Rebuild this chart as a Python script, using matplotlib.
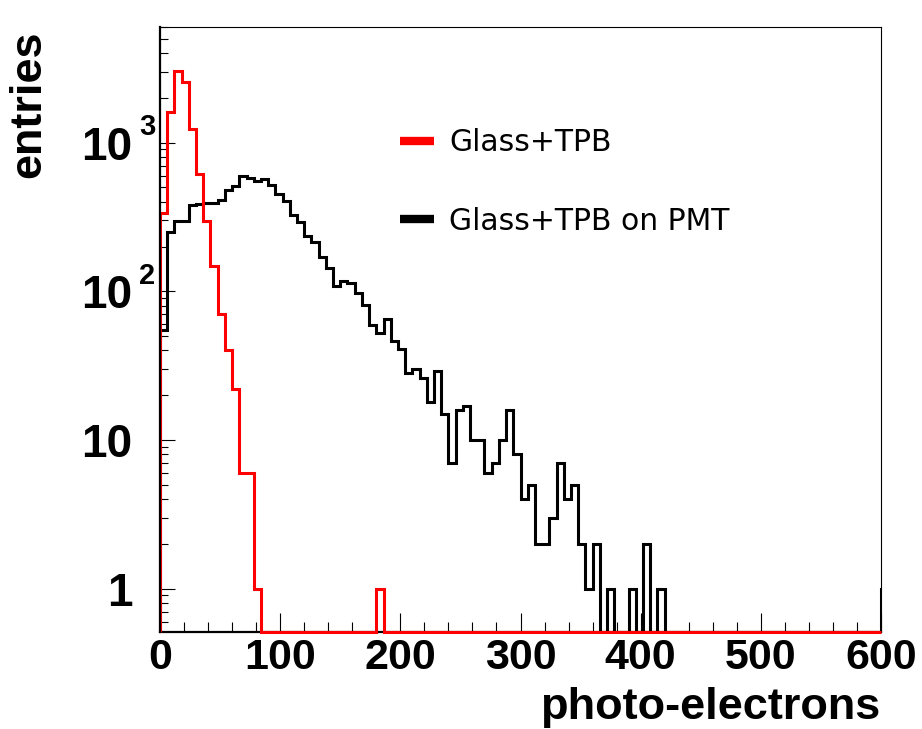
import numpy as np
import matplotlib
matplotlib.use("Agg")
import matplotlib.pyplot as plt
from matplotlib.lines import Line2D
from matplotlib.ticker import FixedLocator, LogLocator, NullFormatter, MultipleLocator

# ---- data (bin width 6 p.e., 0..600) ----
bin_edges = np.arange(0, 601, 6)

glass_tpb = [338, 1618, 3020, 2547, 1243, 615, 298, 148, 70, 40,
             22, 6, 6, 1, 0, 0, 0, 0, 0, 0,
             0, 0, 0, 0, 0, 0, 0, 0, 0, 0,
             1, 0, 0, 0, 0, 0, 0, 0, 0, 0] + [0] * 60

glass_tpb_pmt = [55, 249, 298, 298, 380, 385, 390, 390, 413, 483,
                 508, 593, 578, 552, 570, 521, 454, 403, 324, 291,
                 234, 216, 171, 143, 108, 118, 114, 98, 81, 59,
                 52, 65, 46, 41, 28, 30, 26, 18, 29, 15,
                 7, 16, 17, 10, 10, 6, 7, 10, 16, 8,
                 4, 5, 2, 2, 3, 7, 4, 5, 2, 1,
                 2, 0, 1, 0, 0, 1, 0, 2, 0, 1] + [0] * 30
pmt_overflow = 1

series_labels = ["Glass+TPB", "Glass+TPB on PMT"]
series_colors = ["#ff0000", "#000000"]

x_ticks = [0, 100, 200, 300, 400, 500, 600]
y_ticks = [1, 10, 100, 1000]
y_tick_labels = ["1", "10", "10", "10"]
y_tick_exponents = {100: "2", 1000: "3"}

ymin, ymax = 0.51, 6000

# ---- figure ----
W, H = 922, 729
fig = plt.figure(figsize=(W / 100, H / 100), dpi=100)
ax = fig.add_axes([160 / W, 1 - 632 / H, (881 - 160) / W, (632 - 27) / H])
ax.set_yscale("log")
ax.set_xlim(0, 600)
ax.set_ylim(ymin, ymax)

def floor(vals):
    v = np.asarray(vals, dtype=float)
    return np.where(v > 0, v, ymin)

# black first (red is drawn on top in the reference)
pmt_vals = np.append(glass_tpb_pmt, pmt_overflow)
pmt_edges = np.append(bin_edges, bin_edges[-1] + 6)
ax.stairs(floor(pmt_vals), pmt_edges, baseline=ymin, color=series_colors[1],
          lw=2.2, zorder=3)
ax.stairs(floor(glass_tpb), bin_edges, baseline=ymin, color=series_colors[0],
          lw=2.2, zorder=3.1, clip_on=False)

# ---- axes styling (ROOT-like) ----
font_b = "Liberation Sans"
for s in ["left", "bottom"]:
    ax.spines[s].set_linewidth(1.6)
ax.spines["left"].set_zorder(4)
for s in ["top", "right"]:
    ax.spines[s].set_linewidth(0.8)

ax.xaxis.set_major_locator(FixedLocator(x_ticks))
ax.xaxis.set_minor_locator(MultipleLocator(20))
ax.set_xticklabels([str(t) for t in x_ticks], fontfamily=font_b,
                   fontweight="bold", fontsize=31)
ax.tick_params(axis="x", which="major", direction="in", length=14, width=0.8, pad=4,
               top=False)
ax.tick_params(axis="x", which="minor", direction="in", length=7, width=0.8, top=False)

ax.yaxis.set_major_locator(FixedLocator(y_ticks))
ax.yaxis.set_minor_locator(LogLocator(base=10, subs=np.arange(2, 10)))
ax.yaxis.set_minor_formatter(NullFormatter())
ax.set_yticklabels(y_tick_labels, fontfamily=font_b, fontweight="bold", fontsize=33)
ax.tick_params(axis="y", which="major", direction="in", length=11, width=0.8, pad=20,
               right=False)
ax.tick_params(axis="y", which="minor", direction="in", length=5.5, width=0.8, right=False)

for val, ex in y_tick_exponents.items():
    ax.annotate(ex, xy=(0, val), xycoords=("axes fraction", "data"),
                xytext=(-15, 11), textcoords="offset points",
                ha="left", va="center", fontfamily=font_b, fontweight="bold",
                fontsize=21)

fig.text(880 / W, 1 - 708 / H, "photo-electrons", ha="right", va="center",
         fontfamily=font_b, fontweight="bold", fontsize=32.5)
fig.text(29 / W, 1 - 30 / H, "entries", ha="center", va="top", rotation=90,
         fontfamily=font_b, fontweight="bold", fontsize=32.5)

handles = [Line2D([], [], color=c, lw=6, solid_capstyle="butt") for c in series_colors]
ax.legend(handles, series_labels, loc="upper left",
          bbox_to_anchor=(400 / W, 1 - 128 / H), bbox_transform=fig.transFigure,
          frameon=False, prop={"family": "DejaVu Sans", "size": 21.5},
          handlelength=1.15, handletextpad=0.5, labelspacing=1.66, borderpad=0,
          borderaxespad=0)

fig.savefig("out.png", dpi=100)
